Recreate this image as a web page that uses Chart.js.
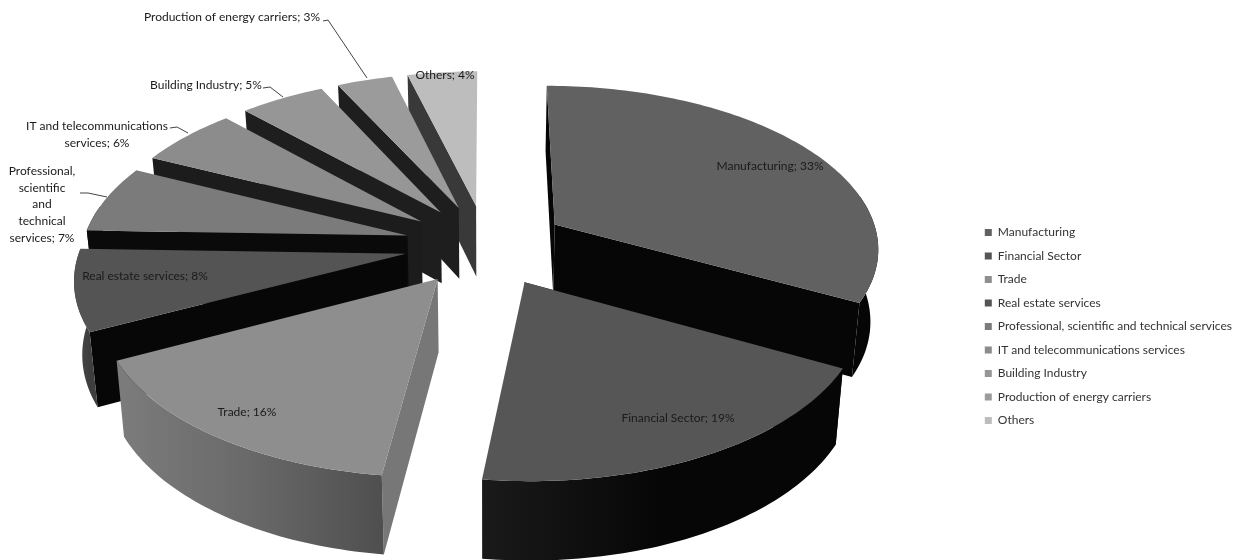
<!DOCTYPE html>
<html>
<head>
<meta charset="utf-8">
<title>Sectors</title>
<script src="https://cdn.jsdelivr.net/npm/chart.js@4"></script>
<style>
html,body{margin:0;padding:0;background:#fff;}
#wrap{width:1239px;height:560px;}
</style>
</head>
<body>
<div id="wrap"><canvas id="pieChart" width="1239" height="560"></canvas></div>
<script>
const categories=["Manufacturing","Financial Sector","Trade","Real estate services","Professional, scientific and technical services","IT and telecommunications services","Building Industry","Production of energy carriers","Others"];
const shares=[32.8,19.2,15.6,7.9,6.6,5.8,4.9,3.2,4.0];

const topColors=["#616161","#565656","#8e8e8e","#545454","#7b7b7b","#8c8c8c","#969696","#9b9b9b","#bdbdbd"];
const wallColors=["#060606","#0a0a0a","#777777","#070707","#0a0a0a","#1c1c1c","#1e1e1e","#1e1e1e","#393939"];
const rimColors=[
["#060606","#060606"],
["#1a1a1a","#060606","#060606"],
["#7c7c7c","#696969","#4f4f4f"],
["#4a4a4a","#3e3e3e"],
["#0a0a0a","#0a0a0a"],
["#1c1c1c","#1c1c1c"],
["#1e1e1e","#1e1e1e"],
["#1e1e1e","#1e1e1e"],
["#393939","#393939"]
];

const labelLines=[
["Manufacturing; 33%"],
["Financial Sector; 19%"],
["Trade; 16%"],
["Real estate services; 8%"],
["Professional,","scientific","and","technical","services; 7%"],
["IT and telecommunications","services; 6%"],
["Building Industry; 5%"],
["Production of energy carriers; 3%"],
["Others; 4%"]
];
const labelSpots=[[770,166],[678,418],[247,412],[145,276],[42,171],[97,126],[206,85],[232,17],[445,75]];
const labelLeading=[0,0,0,0,16.7,17,0,0,0];
const leaders=[
[[323,21],[328,20],[367,78]],
[[263,88],[270,87],[283,97]],
[[170,128],[177,127],[188,133]],
[[80,193],[88,193],[107,197]]
];

// camera used for the tilted pie
const cam={cx:486,cy:245,rx:325,ry:162,k:-0.132,inset:0.98,depth:72,depthGrow:6};

function project(u,v,low){
const w=1+cam.k*v;
let x=cam.cx+cam.rx*u/w;
let y=cam.cy+cam.ry*v/w;
if(low){
x=cam.cx+(x-cam.cx)*cam.inset;
y+=cam.depth+cam.depthGrow*v;
}
return [x,y];
}

function fillPoly(ctx,pts,fill){
ctx.beginPath();
pts.forEach((p,i)=>{
if(i===0) ctx.moveTo(p[0],p[1]);
else ctx.lineTo(p[0],p[1]);
});
ctx.closePath();
ctx.fillStyle=fill;
ctx.fill();
}

function drawSlice(ctx,arc,i){
const mid=(arc.startAngle+arc.endAngle)/2;
const e=arc.options.offset/arc.outerRadius;
const ax=Math.cos(mid)*e;
const ay=Math.sin(mid)*e;

const ring=[];
const front=[];
const steps=Math.ceil((arc.endAngle-arc.startAngle)/0.02);
for(let s=0;s<=steps;s++){
const a=arc.startAngle+(arc.endAngle-arc.startAngle)*s/steps;
const p=[ax+Math.cos(a),ay+Math.sin(a)];
ring.push(p);
if(Math.sin(a)>-0.2) front.push(p);
}
const first=ring[0];
const last=ring[ring.length-1];

const wall=(p)=>[project(ax,ay,false),project(p[0],p[1],false),project(p[0],p[1],true),project(ax,ay,true)];
fillPoly(ctx,wall(first),wallColors[i]);
// the closing wall only shows when it turns towards the viewer
if(Math.cos(arc.endAngle)>0.01) fillPoly(ctx,wall(last),wallColors[i]);

if(front.length>1){
const upper=front.map(p=>project(p[0],p[1],false));
const lower=front.map(p=>project(p[0],p[1],true)).reverse();
const xs=upper.map(p=>p[0]);
const grad=ctx.createLinearGradient(Math.min(...xs),0,Math.max(...xs),0);
rimColors[i].forEach((c,n)=>grad.addColorStop(n/(rimColors[i].length-1),c));
fillPoly(ctx,upper.concat(lower),grad);
}

fillPoly(ctx,[project(ax,ay,false)].concat(ring.map(p=>project(p[0],p[1],false))),topColors[i]);
}

const pie3d={
id:"pie3d",
beforeDatasetsDraw(chart){
const ctx=chart.ctx;
const arcs=chart.getDatasetMeta(0).data;
const order=arcs.map((a,i)=>i).sort((p,q)=>{
const mp=(arcs[p].startAngle+arcs[p].endAngle)/2;
const mq=(arcs[q].startAngle+arcs[q].endAngle)/2;
return Math.sin(mp)-Math.sin(mq);
});
ctx.save();
order.forEach(i=>drawSlice(ctx,arcs[i],i));

ctx.strokeStyle="#444";
ctx.lineWidth=1;
leaders.forEach(l=>{
ctx.beginPath();
l.forEach((p,n)=>{
if(n===0) ctx.moveTo(p[0],p[1]);
else ctx.lineTo(p[0],p[1]);
});
ctx.stroke();
});

ctx.fillStyle="#1a1a1a";
ctx.font="12px Lato";
ctx.textAlign="center";
ctx.textBaseline="middle";
labelLines.forEach((lines,i)=>{
lines.forEach((t,n)=>{
ctx.fillText(t,labelSpots[i][0],labelSpots[i][1]+n*labelLeading[i]);
});
});
ctx.restore();
return false;
}
};

new Chart(document.getElementById("pieChart"),{
type:"pie",
data:{
labels:categories,
datasets:[{
data:shares,
backgroundColor:topColors,
borderWidth:0,
offset:52
}]
},
options:{
responsive:false,
animation:false,
layout:{padding:{top:93,right:-3}},
plugins:{
tooltip:{enabled:false},
legend:{
position:"right",
labels:{
boxWidth:7,
boxHeight:7,
padding:11.5,
color:"#333",
font:{family:"Lato",size:12}
}
}
}
},
plugins:[pie3d]
});
</script>
</body>
</html>
